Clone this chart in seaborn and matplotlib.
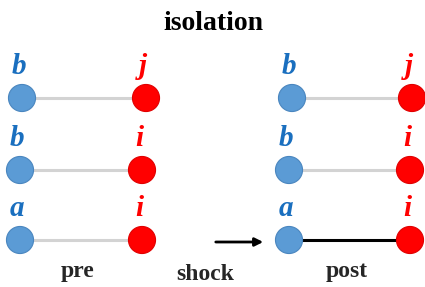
import matplotlib
matplotlib.use("Agg")
import matplotlib.pyplot as plt
import seaborn as sns
import pandas as pd

# ---- data ----
panels = ["pre", "pre", "pre", "post", "post", "post"]
rows = [0, 1, 2, 0, 1, 2]                 # 0 = top row
left_labels = ["b", "b", "a", "b", "b", "a"]
right_labels = ["j", "i", "i", "j", "i", "i"]
left_x = [22, 20, 20, 292, 289, 289]
right_x = [146, 142, 142, 412, 410, 410]
row_y = [98, 170, 240]
link_active = [False, False, False, False, False, True]
title = "isolation"
bottom_labels = ["pre", "shock", "post"]

sns.set_theme(style="white")
plt.rcParams["font.family"] = ["Liberation Serif", "DejaVu Serif"]

fig = plt.figure(figsize=(4.25, 2.87), dpi=100)
ax = fig.add_axes([0, 0, 1, 1])
ax.set_xlim(0, 425)
ax.set_ylim(287, 0)
ax.axis("off")

blue = "#5B9BD5"
red = "#FF0000"
lblue = "#1A6FBF"

# links
for k in range(len(panels)):
    y = row_y[rows[k]]
    d = pd.DataFrame({"x": [left_x[k], right_x[k]], "y": [y, y]})
    sns.lineplot(data=d, x="x", y="y", ax=ax,
                 color="black" if link_active[k] else "#D3D3D3",
                 lw=2.2, zorder=1, legend=False)

# nodes
nodes = pd.DataFrame({
    "x": left_x + right_x,
    "y": [row_y[r] for r in rows] * 2,
    "side": ["L"] * 6 + ["R"] * 6,
})
sns.scatterplot(data=nodes, x="x", y="y", hue="side",
                palette={"L": blue, "R": red}, s=380,
                edgecolor=["#4A86BF"] * 6 + ["#E00000"] * 6,
                linewidth=0.8, ax=ax, legend=False, zorder=3)
ax.set_xlabel("")
ax.set_ylabel("")

# node labels
for k in range(len(panels)):
    y = row_y[rows[k]] - 31
    ax.text(left_x[k] - 3, y, left_labels[k], color=lblue, fontsize=21,
            fontweight="bold", fontstyle="italic", ha="center", va="center")
    ax.text(right_x[k] - 3, y, right_labels[k], color=red, fontsize=21,
            fontweight="bold", fontstyle="italic", ha="center", va="center")

# arrow
ax.annotate("", xy=(266, 242), xytext=(213, 242),
            arrowprops=dict(arrowstyle="-|>", color="black", lw=2,
                            mutation_scale=12))

ax.text(213, 23, title, ha="center", va="center", fontsize=20,
        fontweight="bold", color="black")
ax.text(78, 271, bottom_labels[0], ha="center", va="center", fontsize=17,
        fontweight="bold")
ax.text(205, 275, bottom_labels[1], ha="center", va="center", fontsize=17,
        fontweight="bold")
ax.text(347, 272, bottom_labels[2], ha="center", va="center", fontsize=17,
        fontweight="bold")

fig.savefig("out.png", dpi=100)
